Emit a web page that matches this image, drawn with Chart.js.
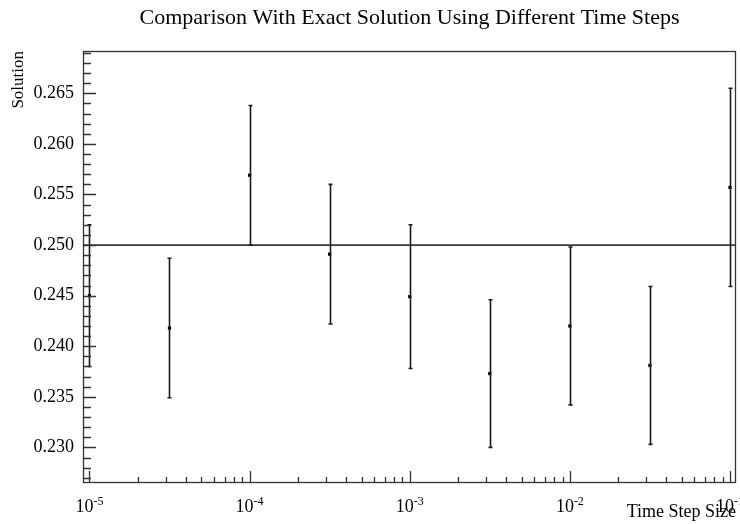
<!DOCTYPE html>
<html>
<head>
<meta charset="utf-8">
<script src="https://cdn.jsdelivr.net/npm/chart.js@4.4.1/dist/chart.umd.min.js"></script>
<style>
  html, body { margin: 0; padding: 0; background: #fff; }
</style>
</head>
<body>
<canvas id="solutionChart" width="740" height="524"></canvas>
<script>
// data
const timeSteps = [1e-5, 3.16e-5, 1e-4, 3.16e-4, 1e-3, 3.16e-3, 1e-2, 3.16e-2, 1e-1];
const solutions = [0.2450, 0.2418, 0.2569, 0.2491, 0.2449, 0.2373, 0.2420, 0.2381, 0.2557];
const errors = [0.0070, 0.0069, 0.0069, 0.0069, 0.0071, 0.0073, 0.0078, 0.0078, 0.0098];
const exactSolution = 0.25;
const yTicks = [0.230, 0.235, 0.240, 0.245, 0.250, 0.255, 0.260, 0.265];
const xDecades = [-5, -4, -3, -2, -1];
const xRange = [9.11e-6, 0.109];
const yRange = [0.22648, 0.26918];

const serif = "'Liberation Serif', 'Times New Roman', serif";

// ROOT style frame, inward ticks, error bars and 10^n labels
const framePlugin = {
  id: "frame",
  afterDatasetsDraw(chart) {
    const { ctx, chartArea: a, scales: { x, y } } = chart;
    ctx.save();

    ctx.strokeStyle = "#1a1a1a";
    ctx.lineWidth = 1.6;
    timeSteps.forEach((t, i) => {
      const px = Math.round(x.getPixelForValue(t)) + 0.5;
      const top = y.getPixelForValue(solutions[i] + errors[i]);
      const bot = y.getPixelForValue(solutions[i] - errors[i]);
      ctx.beginPath();
      ctx.moveTo(px, top); ctx.lineTo(px, bot);
      ctx.moveTo(px - 2, top); ctx.lineTo(px + 2, top);
      ctx.moveTo(px - 2, bot); ctx.lineTo(px + 2, bot);
      ctx.stroke();
    });

    ctx.strokeStyle = "#333";
    ctx.lineWidth = 1.3;
    ctx.strokeRect(a.left + 0.5, a.top + 0.5, a.width - 1, a.height - 1);

    // y ticks: major every 0.005, minor every 0.001
    ctx.beginPath();
    for (let k = 226; k <= 270; k++) {
      const v = k / 1000;
      if (v < yRange[0] || v > yRange[1]) continue;
      const py = Math.round(y.getPixelForValue(v)) + 0.5;
      const len = k % 5 === 0 ? 13 : 8;
      ctx.moveTo(a.left, py); ctx.lineTo(a.left + len, py);
    }
    // x ticks on the log axis
    for (let d = -6; d <= -1; d++) {
      for (let m = 1; m <= 9; m++) {
        const v = m * Math.pow(10, d);
        if (v < xRange[0] || v > xRange[1]) continue;
        const px = Math.round(x.getPixelForValue(v)) + 0.5;
        const len = m === 1 ? 12 : 6;
        ctx.moveTo(px, a.bottom); ctx.lineTo(px, a.bottom - len);
      }
    }
    ctx.stroke();

    ctx.fillStyle = "#000";
    ctx.textBaseline = "alphabetic";
    ctx.textAlign = "left";
    xDecades.forEach(d => {
      const px = x.getPixelForValue(Math.pow(10, d));
      ctx.font = "18px " + serif;
      const w1 = ctx.measureText("10").width;
      ctx.font = "12px " + serif;
      const exp = String(d);
      const w2 = ctx.measureText(exp).width;
      const start = px - (w1 + w2) / 2;
      ctx.font = "18px " + serif;
      ctx.fillText("10", start, 512);
      ctx.font = "12px " + serif;
      ctx.fillText(exp, start + w1, 505);
    });
    ctx.restore();
  }
};

const ctx = document.getElementById("solutionChart").getContext("2d");
const chart = new Chart(ctx, {
  data: {
    datasets: [{
      type: "line",
      label: "Exact",
      data: [{ x: xRange[0], y: exactSolution }, { x: xRange[1], y: exactSolution }],
      borderColor: "#3a3a3a",
      borderWidth: 1.7,
      pointRadius: 0
    }, {
      type: "scatter",
      label: "Solution",
      data: timeSteps.map((t, i) => ({ x: t, y: solutions[i] })),
      pointStyle: "rect",
      pointRadius: 2.3,
      backgroundColor: "#000",
      borderWidth: 0
    }]
  },
  options: {
    responsive: false,
    animation: false,
    layout: { padding: { left: 0, right: 2, top: 0, bottom: 0 } },
    plugins: {
      legend: { display: false },
      tooltip: { enabled: false },
      title: {
        display: true,
        fullSize: false,
        text: "Comparison With Exact Solution Using Different Time Steps",
        color: "#000",
        font: { family: serif, size: 22, weight: "normal" },
        padding: { top: 5, bottom: 19.6 }
      }
    },
    scales: {
      x: {
        type: "logarithmic",
        min: xRange[0],
        max: xRange[1],
        grid: { display: false, drawTicks: false },
        border: { display: false },
        ticks: { display: false },
        title: {
          display: true,
          text: "Time Step Size",
          align: "end",
          color: "#000",
          font: { family: serif, size: 18 },
          padding: { top: 0, bottom: 1 }
        },
        afterFit(scale) { scale.height = 41; }
      },
      y: {
        type: "linear",
        min: yRange[0],
        max: yRange[1],
        grid: { display: false, drawTicks: false },
        border: { display: false },
        afterBuildTicks(scale) { scale.ticks = yTicks.map(v => ({ value: v })); },
        ticks: {
          color: "#000",
          padding: 9,
          font: { family: serif, size: 18 },
          callback: v => Number(v).toFixed(3)
        },
        title: {
          display: true,
          text: "Solution",
          align: "end",
          color: "#000",
          font: { family: serif, size: 17 },
          padding: { top: 8, bottom: 0 }
        },
        afterFit(scale) { scale.width = 83; }
      }
    }
  },
  plugins: [framePlugin]
});
</script>
</body>
</html>
